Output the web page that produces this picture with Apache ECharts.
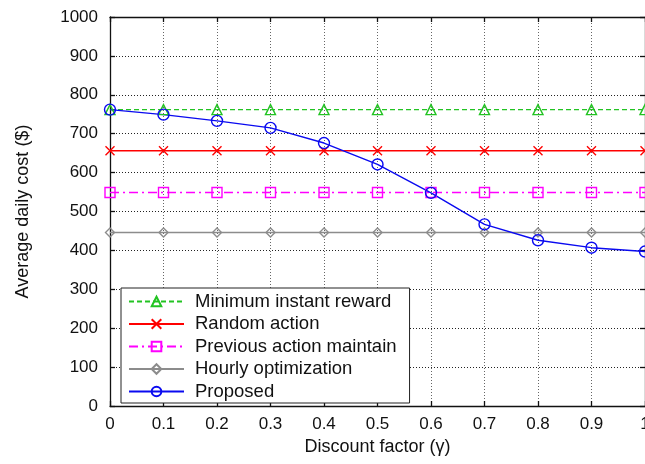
<!DOCTYPE html>
<html>
<head>
<meta charset="utf-8">
<script src="https://cdn.jsdelivr.net/npm/echarts@6/dist/echarts.min.js"></script>
<style>html,body{margin:0;padding:0;background:#fff}#c{width:645px;height:464px}</style>
</head>
<body>
<div id="c"></div>
<script>
var gammas = [0, 0.1, 0.2, 0.3, 0.4, 0.5, 0.6, 0.7, 0.8, 0.9, 1.0];
var minInstant = [762, 762, 762, 762, 762, 762, 762, 762, 762, 762, 762];
var randomAction = [656, 656, 656, 656, 656, 656, 656, 656, 656, 656, 656];
var prevMaintain = [549, 549, 549, 549, 549, 549, 549, 549, 549, 549, 549];
var hourlyOpt = [446, 446, 446, 446, 446, 446, 446, 446, 446, 446, 446];
var proposed = [762, 749, 733, 715, 676, 621, 548, 467, 426, 407, 397];
var seriesNames = ['Minimum instant reward', 'Random action', 'Previous action maintain', 'Hourly optimization', 'Proposed'];
var xTickLabels = ['0', '0.1', '0.2', '0.3', '0.4', '0.5', '0.6', '0.7', '0.8', '0.9', '1'];

function pairs(vals) { return gammas.map(function (g, i) { return [g, vals[i]]; }); }

var FONT = 'Liberation Sans';
var crossPath = 'path://M0,0L10,10M10,0L0,10';

function mk(name, vals, color, symbol, size, lineType, lw) {
  return {
    name: name, type: 'line', data: pairs(vals),
    symbol: symbol, symbolSize: size, showAllSymbol: true,
    lineStyle: { color: color, width: lw || 1.4, type: lineType },
    itemStyle: { color: 'rgba(255,255,255,0)', borderColor: color, borderWidth: 1.4 },
    emphasis: { disabled: true },
    animation: false
  };
}

var chart = echarts.init(document.getElementById('c'), null, { renderer: 'canvas' });
chart.setOption({
  backgroundColor: '#fff',
  animation: false,
  textStyle: { fontFamily: FONT },
  grid: { left: 110, right: 0, top: 17, bottom: 58, containLabel: false, outerBoundsMode: 'none' },
  legend: {
    orient: 'vertical', left: 121, top: 288,
    data: seriesNames,
    itemWidth: 55, itemHeight: 12, itemGap: 3.5,
    padding: [4, 13, 2, 7],
    backgroundColor: '#fff', borderColor: '#222', borderWidth: 1, borderRadius: 0,
    textStyle: { fontFamily: FONT, fontSize: 18.5, color: '#111', padding: [0, 0, 0, 6] },
    selectedMode: false
  },
  xAxis: [{
    type: 'value', min: 0, max: 1, interval: 0.1, position: 'bottom',
    name: 'Discount factor (\u03b3)', nameLocation: 'middle', nameGap: 31,
    nameTextStyle: { fontFamily: FONT, fontSize: 18, color: '#111' },
    axisLine: { show: true, onZero: false, lineStyle: { color: '#111', width: 1.3 } },
    axisTick: { show: true, inside: true, length: 5, lineStyle: { color: '#111', width: 1.3 } },
    axisLabel: { fontFamily: FONT, fontSize: 17, color: '#111', margin: 10,
      formatter: function (v) { var i = Math.round(v * 10); return xTickLabels[i]; } },
    splitLine: { show: true, lineStyle: { color: '#666', type: [1, 2], width: 1 } }
  }, {
    type: 'value', min: 0, max: 1, interval: 0.1, position: 'top',
    axisLine: { show: true, onZero: false, lineStyle: { color: '#111', width: 1.3 } },
    axisTick: { show: true, inside: true, length: 5, lineStyle: { color: '#111', width: 1.3 } },
    axisLabel: { show: false }, splitLine: { show: false }
  }],
  yAxis: [{
    type: 'value', min: 0, max: 1000, interval: 100, position: 'left',
    name: 'Average daily cost ($)', nameLocation: 'middle', nameGap: 78,
    nameTextStyle: { fontFamily: FONT, fontSize: 18, color: '#111' },
    axisLine: { show: true, onZero: false, lineStyle: { color: '#111', width: 1.3 } },
    axisTick: { show: true, inside: true, length: 5, lineStyle: { color: '#111', width: 1.3 } },
    axisLabel: { fontFamily: FONT, fontSize: 17, color: '#111', margin: 12,
      formatter: function (v) { return String(v); } },
    splitLine: { show: true, lineStyle: { color: '#222', type: [1, 2], width: 1 } }
  }, {
    type: 'value', min: 0, max: 1000, interval: 100, position: 'right',
    axisLine: { show: true, onZero: false, lineStyle: { color: '#111', width: 1.3 } },
    axisTick: { show: true, inside: true, length: 5, lineStyle: { color: '#111', width: 1.3 } },
    axisLabel: { show: false }, splitLine: { show: false }
  }],
  series: [
    mk(seriesNames[0], minInstant, '#22c322', 'triangle', 10, [5, 3]),
    mk(seriesNames[1], randomAction, '#ff0000', crossPath, 9, 'solid'),
    mk(seriesNames[2], prevMaintain, '#ff00ff', 'rect', 10, [9, 4, 2, 4]),
    mk(seriesNames[3], hourlyOpt, '#8c8c8c', 'diamond', 9, 'solid'),
    mk(seriesNames[4], proposed, '#0a0af0', 'circle', 11, 'solid')
  ]
});
</script>
</body>
</html>
